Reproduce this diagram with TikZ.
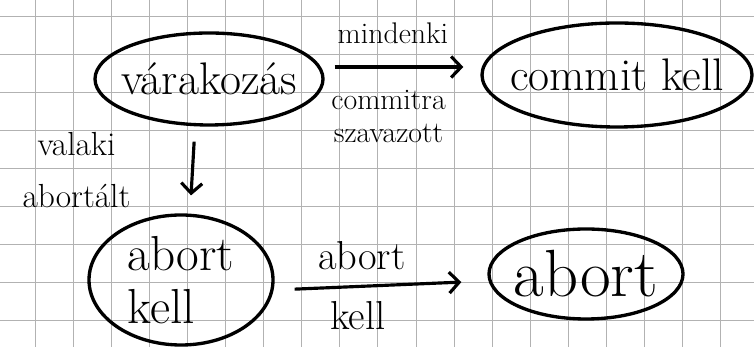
\documentclass[tikz,border=0pt]{standalone}
\usetikzlibrary{shapes.geometric,arrows.meta}
\begin{document}
\begin{tikzpicture}[
  state/.style={draw, ellipse, line width=1.9pt, inner sep=0pt},
  statetext/.style={font=\fontsize{26}{31}\selectfont, align=left},
  trans/.style={line width=1.8pt, -{Straight Barb[length=0.2cm, width=0.42cm]}},
  tag/.style={font=\fontsize{17}{19}\selectfont, align=center},
  gridline/.style={black!30, line width=0.5pt}]
  \useasboundingbox (0,0) rectangle (15.08,6.94);
  % squared paper
  \foreach \x in {0,...,18}
    \draw[gridline] (0.70+0.762*\x,0) -- (0.70+0.762*\x,6.94);
  \foreach \y in {0,...,8}
    \draw[gridline] (0,6.606-0.76*\y) -- (15.08,6.606-0.76*\y);
  % states
  \node[state, minimum width=4.56cm, minimum height=1.84cm,
    label={[statetext]center:várakozás}] (wait) at (4.18,5.36) {};
  \node[state, minimum width=5.4cm, minimum height=2.08cm,
    label={[statetext]center:commit kell}] (commit) at (12.34,5.44) {};
  \node[state, minimum width=3.68cm, minimum height=2.6cm,
    label={[statetext, font=\fontsize{28}{30}\selectfont]center:abort\\kell}] (abortkell) at (3.62,1.34) {};
  \node[state, minimum width=3.88cm, minimum height=1.8cm,
    label={[statetext, font=\fontsize{38}{40}\selectfont]center:abort}] (abort) at (11.72,1.46) {};
  % transitions
  \draw[trans, shorten >=0.34cm] ([xshift=0.2cm, yshift=0.24cm]wait.east) -- ([yshift=0.16cm]commit.west)
    node[tag, pos=0.4, yshift=0.68cm] {mindenki}
    node[tag, pos=0.37, yshift=-0.99cm] {commitra\\szavazott};
  \draw[trans, shorten <=0.3cm, shorten >=0.36cm] ([xshift=-0.28cm]wait.south) -- ([xshift=0.18cm]abortkell.north)
    node[tag, font=\fontsize{19}{30}\selectfont, midway, xshift=-2.32cm] {valaki\\abortált};
  \draw[trans, shorten <=0.4cm, shorten >=0.52cm] ([yshift=-0.2cm]abortkell.east) -- ([yshift=-0.14cm]abort.west)
    node[tag, font=\fontsize{23}{26}\selectfont, pos=0.41, yshift=0.62cm] {abort}
    node[tag, font=\fontsize{23}{26}\selectfont, pos=0.39, yshift=-0.58cm] {kell};
\end{tikzpicture}
\end{document}
